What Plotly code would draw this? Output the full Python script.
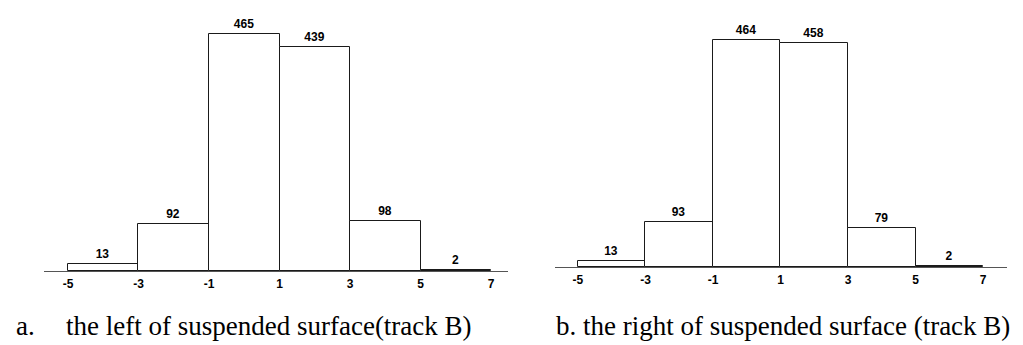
import plotly.graph_objects as go

W, H = 1023, 345

bin_centers = [-4, -2, 0, 2, 4, 6]
bin_width = 2
tick_vals = [-5, -3, -1, 1, 3, 5, 7]
tick_text = ["-5", "-3", "-1", "1", "3", "5", "7"]
left_counts = [13, 92, 465, 439, 98, 2]
right_counts = [13, 93, 464, 458, 79, 2]
caption_a_label = "a."
caption_a_text = "the left of suspended surface(track B)"
caption_b_text = "b. the right of suspended surface (track B)"

num_font = dict(family="Liberation Sans, Arial, sans-serif", size=12, color="black")

fig = go.Figure()
for counts, xa, ya in [(left_counts, "x", "y"), (right_counts, "x2", "y2")]:
    fig.add_trace(go.Bar(
        x=bin_centers, y=counts, width=bin_width,
        marker=dict(color="white", line=dict(color="#1a1a1a", width=1)),
        text=[f"<b>{c}</b>" for c in counts], textposition="outside",
        textfont=num_font, cliponaxis=False,
        xaxis=xa, yaxis=ya, showlegend=False, hoverinfo="skip",
    ))

def px_x(p):
    return p / W

def px_y(p):
    return (H - p) / H

# left panel: axis line from 36 to 500 px, baseline at 263 px, 0.51 px per count
# right panel: axis line from 547 to 999 px, baseline at 259 px, 0.4885 px per count
axis_common = dict(
    tickmode="array", tickvals=tick_vals,
    ticktext=[f"<b>{t}</b>" for t in tick_text],
    tickfont=num_font, showgrid=False, zeroline=False,
    showline=True, linecolor="#555555", linewidth=1,
    ticks="outside", ticklen=2, tickcolor="rgba(0,0,0,0)",
    fixedrange=True,
)
yaxis_common = dict(visible=False, showgrid=False, zeroline=False, fixedrange=True)

fig.update_layout(
    width=W, height=H,
    margin=dict(l=0, r=0, t=0, b=0),
    paper_bgcolor="white", plot_bgcolor="white",
    bargap=0,
    xaxis=dict(domain=[px_x(36), px_x(500)], range=[-5.68, 7.48], anchor="y", **axis_common),
    yaxis=dict(domain=[px_y(263), 1], range=[0, 263 / 0.51], anchor="x", **yaxis_common),
    xaxis2=dict(domain=[px_x(547), px_x(999)], range=[-5.68, 7.71], anchor="y2", **axis_common),
    yaxis2=dict(domain=[px_y(259), 1], range=[0, 259 / 0.4885], anchor="x2", **yaxis_common),
)

cap_font = dict(family="Liberation Serif, Times New Roman, serif", size=27, color="black")
for txt, xp in [(caption_a_label, 6), (caption_a_text, 56), (caption_b_text, 546)]:
    fig.add_annotation(
        text=txt, x=px_x(xp), y=px_y(318), xref="paper", yref="paper",
        xanchor="left", yanchor="middle", showarrow=False, font=cap_font,
    )

fig.write_html("out.html")
